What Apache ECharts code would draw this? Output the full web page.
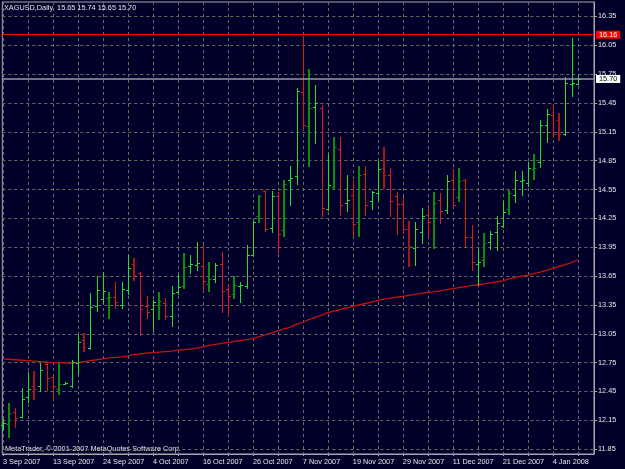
<!DOCTYPE html>
<html>
<head>
<meta charset="utf-8">
<title>XAGUSD Daily</title>
<script src="https://cdn.jsdelivr.net/npm/echarts@6.0.0/dist/echarts.min.js"></script>
<style>
  html, body { margin: 0; padding: 0; background: #00002a; }
  #chart { width: 625px; height: 469px; }
</style>
</head>
<body>
<div id="chart"></div>
<script>
// --- data ---
const symbol = 'XAGUSD,Daily'
const tickLabels = ['3 Sep 2007', '13 Sep 2007', '24 Sep 2007', '4 Oct 2007', '16 Oct 2007', '26 Oct 2007',
  '7 Nov 2007', '19 Nov 2007', '29 Nov 2007', '11 Dec 2007', '21 Dec 2007', '4 Jan 2008']
const labelStep = 8 // bars between two date labels
const gridStep = 4 // bars between two vertical grid lines
const priceTicks = [11.85, 12.15, 12.45, 12.75, 13.05, 13.35, 13.65, 13.95, 14.25, 14.55, 14.85, 15.15, 15.45, 15.75, 16.05, 16.35]

const opens = [12.10, 12.11, 12.24, 12.18, 12.39, 12.51, 12.51, 12.74, 12.60, 12.48,
  12.53, 12.51, 12.75, 12.99, 12.90, 13.34, 13.41, 13.42, 13.43, 13.35,
  13.51, 13.78, 13.68, 13.34, 13.305, 13.35, 13.37, 13.23, 13.48, 13.55,
  13.755, 13.77, 13.76, 13.57, 13.62, 13.78, 13.52, 13.46, 13.55, 13.55,
  13.87, 14.27, 14.53, 14.15, 14.48, 14.13, 14.65, 14.69, 15.56, 15.21,
  15.41, 15.40, 14.35, 14.58, 14.97, 14.41, 14.49, 14.21, 14.71, 14.43,
  14.51, 14.77, 14.70, 14.48, 14.40, 14.14, 13.94, 14.11, 14.29, 14.25,
  14.44, 14.34, 14.65, 14.47, 14.65, 14.06, 13.78, 13.82, 14.00, 14.11,
  14.17, 14.35, 14.49, 14.64, 14.62, 14.76, 14.84, 15.22, 15.32, 15.27,
  15.13, 15.65, 15.65]
const highs = [12.16, 12.33, 12.28, 12.49, 12.65, 12.66, 12.75, 12.75, 12.61, 12.76,
  12.545, 12.78, 13.04, 13.06, 13.47, 13.65, 13.69, 13.48, 13.59, 13.59,
  13.87, 13.84, 13.69, 13.44, 13.40, 13.48, 13.42, 13.55, 13.67, 13.89,
  13.87, 14.00, 13.97, 13.80, 13.79, 13.90, 13.57, 13.65, 13.59, 13.97,
  14.22, 14.49, 14.55, 14.53, 14.52, 14.65, 14.79, 15.61, 16.15, 15.80,
  15.64, 15.43, 14.915, 15.10, 15.10, 14.70, 14.65, 14.79, 14.79, 14.53,
  14.85, 14.99, 14.77, 14.52, 14.47, 14.22, 14.21, 14.36, 14.39, 14.52,
  14.51, 14.70, 14.76, 14.77, 14.66, 14.18, 13.93, 14.10, 14.12, 14.27,
  14.43, 14.54, 14.74, 14.74, 14.84, 14.92, 15.27, 15.39, 15.44, 15.35,
  15.72, 16.13, 15.74]
const lows = [12.05, 11.98, 12.08, 12.18, 12.34, 12.37, 12.45, 12.47, 12.37, 12.42,
  12.525, 12.50, 12.64, 12.87, 12.89, 13.29, 13.37, 13.21, 13.32, 13.32,
  13.46, 13.61, 13.04, 13.21, 13.08, 13.20, 13.20, 13.13, 13.46, 13.53,
  13.68, 13.71, 13.51, 13.49, 13.59, 13.28, 13.24, 13.42, 13.38, 13.53,
  13.86, 14.21, 14.12, 14.11, 13.90, 14.07, 14.39, 14.61, 15.18, 14.79,
  15.03, 14.27, 14.34, 14.56, 14.29, 14.33, 14.08, 14.07, 14.29, 14.35,
  14.44, 14.57, 14.27, 14.09, 14.10, 13.76, 13.77, 13.99, 14.08, 13.94,
  14.20, 14.31, 14.38, 14.43, 13.96, 13.71, 13.56, 13.76, 13.93, 13.92,
  14.16, 14.30, 14.42, 14.49, 14.59, 14.66, 14.78, 15.04, 15.10, 15.07,
  15.12, 15.52, 15.65]
const closes = [12.12, 12.23, 12.17, 12.37, 12.48, 12.48, 12.67, 12.59, 12.51, 12.53,
  12.54, 12.755, 12.96, 12.91, 13.33, 13.51, 13.50, 13.43, 13.38, 13.52,
  13.73, 13.66, 13.31, 13.28, 13.38, 13.39, 13.24, 13.47, 13.54, 13.74,
  13.78, 13.79, 13.60, 13.62, 13.77, 13.49, 13.44, 13.56, 13.56, 13.87,
  14.21, 14.48, 14.14, 14.48, 14.09, 14.61, 14.67, 15.57, 15.22, 15.40,
  15.45, 14.36, 14.60, 14.99, 14.39, 14.44, 14.19, 14.70, 14.39, 14.52,
  14.76, 14.70, 14.43, 14.40, 14.14, 13.96, 14.14, 14.27, 14.21, 14.41,
  14.33, 14.64, 14.39, 14.64, 14.06, 13.80, 13.80, 13.99, 14.09, 14.20,
  14.32, 14.51, 14.65, 14.65, 14.77, 14.77, 15.22, 15.34, 15.13, 15.13,
  15.66, 15.66, 15.70]
const ma = [12.79, 12.785, 12.78, 12.775, 12.77, 12.765, 12.76, 12.755, 12.75, 12.75,
  12.745, 12.745, 12.75, 12.76, 12.77, 12.78, 12.79, 12.80, 12.805, 12.81,
  12.82, 12.835, 12.84, 12.85, 12.855, 12.86, 12.865, 12.87, 12.88, 12.885,
  12.89, 12.90, 12.915, 12.93, 12.94, 12.95, 12.96, 12.97, 12.98, 12.99,
  13.00, 13.02, 13.04, 13.06, 13.08, 13.10, 13.12, 13.15, 13.17, 13.20,
  13.22, 13.245, 13.27, 13.285, 13.30, 13.32, 13.335, 13.35, 13.365, 13.38,
  13.395, 13.41, 13.42, 13.43, 13.44, 13.45, 13.46, 13.47, 13.48, 13.485,
  13.495, 13.51, 13.52, 13.53, 13.54, 13.55, 13.56, 13.57, 13.58, 13.59,
  13.60, 13.62, 13.635, 13.65, 13.66, 13.675, 13.69, 13.71, 13.73, 13.75,
  13.77, 13.79, 13.82]
const alertLevel = 16.16
const bidLevel = 15.70

// --- chart ---
const font = '"Liberation Sans", Arial, sans-serif'
const textColor = '#e6e6e6'
const gridColor = '#6c6c5c'
const frameColor = '#a8a8a8'

const last = opens.length - 1
const header = symbol + '  ' + [opens[last], highs[last], lows[last], closes[last]].map(v => v.toFixed(2)).join(' ')

const labelIdx = tickLabels.map((t, k) => k * labelStep)
const gridIdx = []
for (let i = 0; i < opens.length; i += gridStep) gridIdx.push(i)

const barData = opens.map((o, i) => [i, o, highs[i], lows[i], closes[i]])
const maData = ma.map((v, i) => [i, v])

function renderBar(params, api) {
  const i = api.value(0)
  const o = api.coord([i, api.value(1)])
  const h = api.coord([i, api.value(2)])
  const l = api.coord([i, api.value(3)])
  const c = api.coord([i, api.value(4)])
  const up = api.value(4) >= api.value(1)
  // every 4th bar looks smeared (2px, darker) in the screenshot
  const soft = i % 4 === 1
  const color = up ? (soft ? '#0b8c0b' : '#22e022') : (soft ? '#a51616' : '#e01818')
  const w = soft ? 2 : 1
  const x = Math.round(h[0]) + (soft ? 0 : 0.5)
  const yo = Math.round(o[1]) + 0.5
  const yc = Math.round(c[1]) + 0.5
  return {
    type: 'group',
    children: [
      { type: 'line', shape: { x1: x, y1: Math.round(h[1]), x2: x, y2: Math.round(l[1]) + 1 }, style: { stroke: color, lineWidth: w } },
      { type: 'line', shape: { x1: x - 2.5, y1: yo, x2: x, y2: yo }, style: { stroke: color, lineWidth: 1 } },
      { type: 'line', shape: { x1: x, y1: yc, x2: x + 2.5, y2: yc }, style: { stroke: color, lineWidth: 1 } }
    ]
  }
}

const chart = echarts.init(document.getElementById('chart'), null, { renderer: 'canvas' })

chart.setOption({
  animation: false,
  backgroundColor: '#00002a',
  textStyle: { fontFamily: font },
  title: {
    text: header,
    left: 4,
    top: 4,
    padding: 0,
    textStyle: { color: textColor, fontSize: 7.3, fontWeight: 'normal', fontFamily: font }
  },
  graphic: [{
    type: 'text',
    left: 5,
    top: 445,
    silent: true,
    style: { text: 'MetaTrader, © 2001-2007 MetaQuotes Software Corp.', fill: textColor, font: '7.3px ' + font }
  }],
  grid: {
    left: 2,
    right: 31,
    top: 2,
    bottom: 15,
    show: true,
    borderColor: frameColor,
    borderWidth: 1
  },
  xAxis: {
    type: 'value',
    min: -0.112,
    max: 94.6,
    axisLine: { show: true, onZero: false, lineStyle: { color: frameColor } },
    axisTick: { show: true, customValues: gridIdx, length: 2, lineStyle: { color: frameColor } },
    axisLabel: {
      customValues: labelIdx,
      formatter: v => tickLabels[Math.round(v / labelStep)],
      align: 'left',
      margin: 4,
      color: textColor,
      fontSize: 7.3,
      fontFamily: font
    },
    splitLine: { show: true, lineStyle: { color: gridColor, type: [3, 3], width: 1 } }
  },
  yAxis: {
    type: 'value',
    position: 'right',
    min: 11.80,
    max: 16.50,
    axisLine: { show: true, onZero: false, lineStyle: { color: frameColor } },
    axisTick: { show: true, customValues: priceTicks, length: 3, lineStyle: { color: frameColor } },
    axisLabel: {
      customValues: priceTicks,
      formatter: v => v.toFixed(2),
      margin: 4,
      color: textColor,
      fontSize: 7.3,
      fontFamily: font
    },
    splitLine: { show: true, lineStyle: { color: gridColor, type: [3, 3], width: 1 } }
  },
  series: [
    {
      name: 'bars',
      type: 'custom',
      renderItem: renderBar,
      data: barData,
      encode: { x: 0, y: [1, 2, 3, 4] },
      silent: true,
      z: 3
    },
    {
      name: 'ma',
      type: 'line',
      data: maData,
      showSymbol: false,
      silent: true,
      lineStyle: { color: '#c41212', width: 1.3 },
      z: 2,
      markLine: {
        symbol: ['none', 'none'],
        silent: true,
        animation: false,
        data: [
          {
            yAxis: alertLevel,
            lineStyle: { color: '#ff0000', width: 1, type: 'solid' },
            label: {
              show: true, position: 'end', distance: 2,
              formatter: p => p.value.toFixed(2),
              color: '#ffffff', backgroundColor: '#ff0000', padding: [1, 3, 0, 3],
              fontSize: 7.3, fontFamily: font
            }
          },
          {
            yAxis: bidLevel,
            lineStyle: { color: '#9a9a9a', width: 1.5, type: 'solid' },
            label: {
              show: true, position: 'end', distance: 2,
              formatter: p => p.value.toFixed(2),
              color: '#000000', backgroundColor: '#ffffff', padding: [1, 3, 0, 3],
              fontSize: 7.3, fontFamily: font
            }
          }
        ]
      }
    }
  ]
})
</script>
</body>
</html>
